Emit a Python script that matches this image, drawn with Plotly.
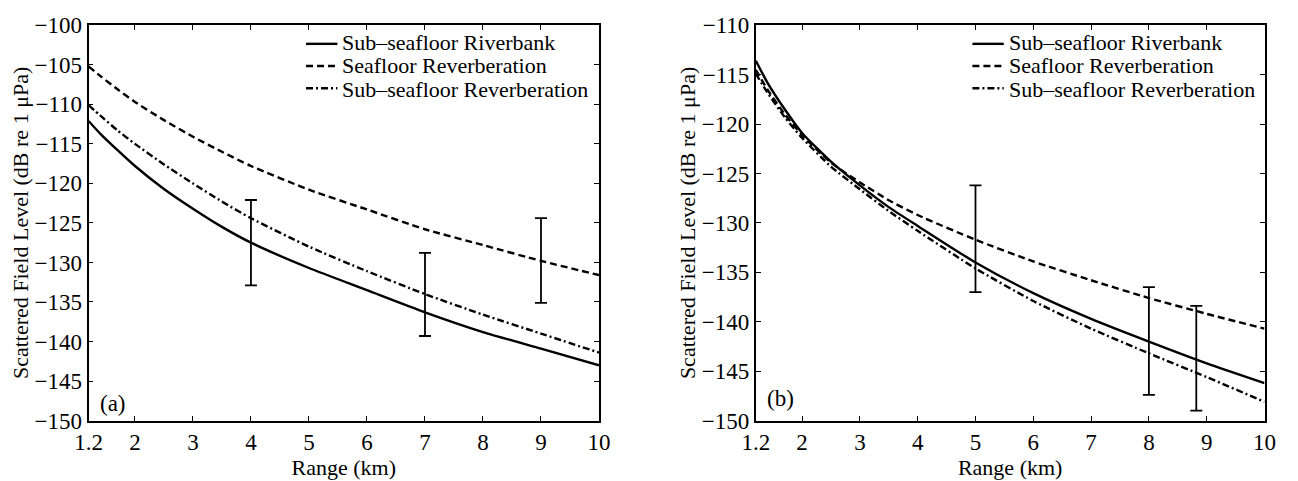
import plotly.graph_objects as go
from plotly.subplots import make_subplots

# Range samples (km)
range_km = [1.2, 1.4, 1.7, 2, 2.5, 3, 3.5, 4, 5, 6, 7, 8, 9, 10]

# Panel (a) modelled levels (dB re 1 uPa)
a_riverbank = [-112.1, -113.7, -115.8, -117.8, -120.7, -123.2, -125.5, -127.5, -130.7, -133.5, -136.3, -138.8, -140.9, -143.0]
a_seafloor = [-105.2, -106.4, -108.1, -109.7, -112.0, -114.1, -116.0, -117.8, -120.8, -123.3, -125.8, -127.8, -129.8, -131.6]
a_subseafloor = [-110.1, -111.4, -113.3, -115.0, -117.6, -120.0, -122.3, -124.4, -128.0, -131.1, -134.0, -136.6, -139.0, -141.4]

# Panel (a) measured ranges
a_meas_x = [4, 7, 9]
a_meas_low = [-132.9, -139.3, -135.1]
a_meas_high = [-122.1, -128.8, -124.4]

# Panel (b) modelled levels
b_riverbank = [-113.6, -115.8, -118.5, -120.9, -123.8, -126.2, -128.4, -130.3, -134.0, -137.1, -139.7, -142.0, -144.2, -146.2]
b_seafloor = [-114.5, -116.5, -119.0, -121.1, -123.9, -125.9, -127.7, -129.2, -131.7, -133.9, -135.8, -137.6, -139.2, -140.7]
b_subseafloor = [-114.9, -116.8, -119.3, -121.4, -124.3, -126.6, -128.8, -130.8, -134.6, -137.9, -140.7, -143.2, -145.6, -148.1]

# Panel (b) measured ranges
b_meas_x = [5, 8, 8.82]
b_meas_low = [-137.0, -147.4, -149.0]
b_meas_high = [-126.2, -136.5, -138.4]

x_ticks = [1.2, 2, 3, 4, 5, 6, 7, 8, 9, 10]
x_tick_text = ["1.2", "2", "3", "4", "5", "6", "7", "8", "9", "10"]

series_names = ["Sub\u2013seafloor Riverbank", "Seafloor Reverberation", "Sub\u2013seafloor Reverberation"]
dash_styles = ["solid", "7px,4px", "7px,3px,2px,3px"]
panel_labels = ["(a)", "(b)"]

FONT = "Liberation Serif"
W, H = 1298, 481
LINE_W = 2.4

fig = make_subplots(rows=1, cols=2)


def add_panel(col, curves, mx, mlow, mhigh):
    for name, ys, dash in zip(series_names, curves, dash_styles):
        fig.add_trace(
            go.Scatter(
                x=range_km, y=ys, mode="lines", name=name, showlegend=False,
                line=dict(color="black", width=LINE_W, dash=dash, shape="spline", smoothing=0.6),
            ),
            row=1, col=col,
        )
    mid = [(lo + hi) / 2 for lo, hi in zip(mlow, mhigh)]
    fig.add_trace(
        go.Scatter(
            x=mx, y=mid, mode="markers", showlegend=False,
            marker=dict(size=1, color="rgba(0,0,0,0)"),
            error_y=dict(
                type="data", symmetric=False,
                array=[hi - m for hi, m in zip(mhigh, mid)],
                arrayminus=[m - lo for lo, m in zip(mlow, mid)],
                color="black", thickness=1.8, width=6,
            ),
        ),
        row=1, col=col,
    )


add_panel(1, [a_riverbank, a_seafloor, a_subseafloor], a_meas_x, a_meas_low, a_meas_high)
add_panel(2, [b_riverbank, b_seafloor, b_subseafloor], b_meas_x, b_meas_low, b_meas_high)

axis_common = dict(
    showline=True, linecolor="black", linewidth=1.8, mirror="ticks",
    ticks="inside", ticklen=5, tickcolor="black", tickwidth=1.2,
    showgrid=False, zeroline=False,
    tickfont=dict(family=FONT, size=23, color="black"),
)

fig.update_xaxes(
    **axis_common, range=[1.2, 10], tickvals=x_ticks, ticktext=x_tick_text,
    title=dict(text="Range (km)", font=dict(family=FONT, size=22, color="black"), standoff=0),
)
fig.update_yaxes(
    **axis_common, dtick=5,
    title=dict(text="Scattered Field Level (dB re 1 \u03bcPa)", font=dict(family=FONT, size=22, color="black"), standoff=0),
)
fig.update_yaxes(range=[-150, -100], row=1, col=1)
fig.update_yaxes(range=[-150, -110], row=1, col=2)

# Compact in-panel key: short line samples beside one block of series names.
# The block's base font sets the tight row pitch; the spans enlarge the glyphs.
KEY_PITCH = 18          # base font size -> row pitch of 1.3 * 18 px
KEY_TEXT = 22           # displayed glyph size
key_left_px = [298, 978]
key_mid_row_px = 57
key_text = "<br>".join(
    f"<span style='font-size:{KEY_TEXT}px'>{name}</span>" for name in series_names
)

shapes = []
annotations = []
for left in key_left_px:
    for i, dash in enumerate(dash_styles):
        row_y = key_mid_row_px + (i - 1) * KEY_PITCH * 1.3
        yp = 1 - row_y / H
        shapes.append(dict(
            type="line", xref="paper", yref="paper",
            x0=left / W, x1=(left + 32) / W, y0=yp, y1=yp,
            line=dict(color="black", width=LINE_W, dash=dash),
        ))
    annotations.append(dict(
        text=key_text, xref="paper", yref="paper",
        x=(left + 35) / W, y=1 - key_mid_row_px / H,
        xanchor="left", yanchor="middle", align="left", showarrow=False,
        font=dict(family=FONT, size=KEY_PITCH, color="black"),
    ))

for label, xr, yr in zip(panel_labels, ["x", "x2"], ["y", "y2"]):
    annotations.append(dict(
        text=label, x=1.62, y=-147.8, xref=xr, yref=yr, showarrow=False,
        font=dict(family=FONT, size=23, color="black"),
    ))

fig.update_layout(
    width=W, height=H,
    margin=dict(l=0, r=0, t=0, b=0),
    paper_bgcolor="white", plot_bgcolor="white",
    showlegend=False,
    xaxis=dict(domain=[0.0586, 0.4599]),
    xaxis2=dict(domain=[0.5832, 0.9831]),
    yaxis=dict(domain=[0.1040, 0.9709]),
    yaxis2=dict(domain=[0.1040, 0.9709]),
    shapes=shapes,
    annotations=annotations,
)

fig.write_html("out.html")
